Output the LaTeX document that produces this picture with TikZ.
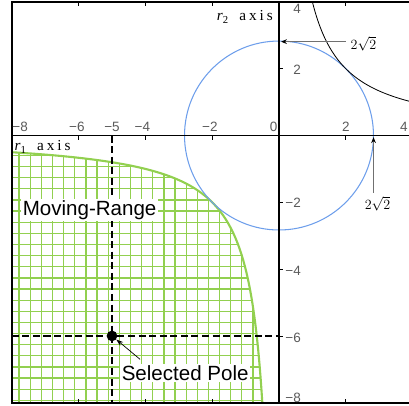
\documentclass[tikz,border=0pt]{standalone}
\usepackage{fontspec}
\setmainfont{Liberation Serif}
\newfontfamily\arialf{Liberation Sans}
\usetikzlibrary{arrows.meta}
\definecolor{grn}{HTML}{92D050}
\definecolor{blu}{HTML}{6D9EEB}
\definecolor{tickgray}{HTML}{5A5A5A}
\definecolor{arrgray}{HTML}{707070}
\begin{document}
\begin{tikzpicture}[x=1cm,y=1cm,
  ticklab/.style={font=\arialf\fontsize{11.5}{12}\selectfont, text=tickgray, inner sep=0pt},
  axlab/.style={font=\fontsize{13}{14}\selectfont, inner sep=0pt},
  biglab/.style={font=\arialf\fontsize{17.5}{19}\selectfont, fill=white, inner sep=1.5pt},
  gridline/.style={grn, line width=1.1pt},
  frameline/.style={line width=1.4pt},
  dashline/.style={line width=1.3pt, dash pattern=on 6pt off 3pt},
  tickline/.style={line width=0.6pt},
  annarrow/.style={arrgray, line width=0.9pt, -{Stealth[length=5pt,width=4pt,black]}},
  curve/.style={grn, line width=1.8pt},
  poledot/.style={circle, fill=black, inner sep=0pt, minimum size=0.32cm},
]
\useasboundingbox (-8.353,-8.069) rectangle (3.892,4.057);
\clip (-8.353,-8.069) rectangle (3.892,4.057);
% hatched moving range
\begin{scope}
  \clip (-8,-8) -- plot[domain=1.3863:-1.3863,samples=120,variable=\t] ({-2*exp(\t)},{-2*exp(-\t)}) -- cycle;
  \foreach \i in {0,...,24} \draw[gridline] ({-7.78+\i/3},-8.1) -- ++(0,8.2);
  \foreach \i in {0,...,24} \draw[gridline] (-8.1,{-7.93+\i/3}) -- ++(8.2,0);
\end{scope}
\draw[curve] plot[domain=1.3863:-1.3863,samples=150,variable=\t] ({-2*exp(\t)},{-2*exp(-\t)});
% circle and hyperbola
\draw[blu, line width=0.9pt] (0,0) circle ({2*sqrt(2)});
\draw[black, line width=0.7pt] plot[domain=-0.6931:0.6931,samples=100,variable=\t] ({2*exp(\t)},{2*exp(-\t)});
% axes and frame
\draw[frameline] (-8,0) -- (4,0);
\draw[frameline] (0,-8) -- (0,4);
\draw[frameline] (-8,-8) rectangle (4,4);
\foreach \t in {-6,-4,-2,2} {
  \draw[tickline] (\t,0) -- ++(0,-0.12);
  \draw[tickline] (\t,4) -- ++(0,-0.12);
  \draw[tickline] (\t,-8) -- ++(0,0.12);
  \draw[tickline] (0,\t) -- ++(0.12,0);
  \draw[tickline] (4,\t) -- ++(-0.12,0);
}
% tick labels
\node[ticklab] (xm8) at (-7.75,0.25) {−8};
\node[ticklab] (xm6) at (-6.05,0.25) {−6};
\node[ticklab] (xm5) at (-5.0,0.25) {−5};
\node[ticklab] (xm4) at (-4.09,0.25) {−4};
\node[ticklab] (xm2) at (-2.07,0.25) {−2};
\node[ticklab] (x0) at (-0.16,0.25) {0};
\node[ticklab] (x2) at (2.0,0.25) {2};
\node[ticklab] (x4) at (3.74,0.25) {4};
\node[ticklab, anchor=east] (y4) at (0.66,3.79) {4};
\node[ticklab, anchor=east] (y2) at (0.66,1.96) {2};
\node[ticklab, anchor=east] (ym2) at (0.66,-2.0) {−2};
\node[ticklab, anchor=east] (ym4) at (0.66,-4.06) {−4};
\node[ticklab, anchor=east] (ym6) at (0.66,-6.05) {−6};
\node[ticklab, anchor=east] (ym8) at (0.66,-7.84) {−8};
% selected pole guides
\coordinate (vtop) at (-5,0);
\coordinate (vbot) at (-5,-8);
\coordinate (hleft) at (-8,-6);
\coordinate (hright) at (0,-6);
\draw[dashline] (vtop) -- (vbot);
\draw[dashline] (hleft) -- (hright);
\node[poledot] (pole) at (-5,-6) {};
% labels
\node[biglab] (mr) at (-5.67,-2.23) {Moving-Range};
\node[biglab] (sp) at (-2.81,-7.11) {Selected Pole};
\coordinate (spa) at (-4.16,-6.70);
\draw[line width=0.6pt, -{Stealth[length=6pt,width=4pt]}] (spa) -- (pole);
\node[axlab, anchor=west] (r1) at (-7.92,-0.34) {\textit{r}\textsubscript{1}\hspace{9pt}a\hspace{2.5pt}x\hspace{2.5pt}i\hspace{2.5pt}s};
\node[axlab, anchor=east] (r2) at (-0.18,3.55) {\textit{r}\textsubscript{2}\hspace{9pt}a\hspace{2.5pt}x\hspace{2.5pt}i\hspace{2.5pt}s};
% 2 sqrt 2 annotations
\node[axlab] (t1) at (2.53,2.74) {$2\sqrt{2}$};
\node[axlab] (t2) at (2.95,-2.05) {$2\sqrt{2}$};
\coordinate (a1s) at (2.0,2.81);
\coordinate (a1e) at (0.06,2.81);
\coordinate (a2s) at (2.83,-1.72);
\coordinate (a2e) at (2.83,-0.05);
\draw[annarrow] (a1s) -- (a1e);
\draw[annarrow] (a2s) -- (a2e);
\end{tikzpicture}
\end{document}
